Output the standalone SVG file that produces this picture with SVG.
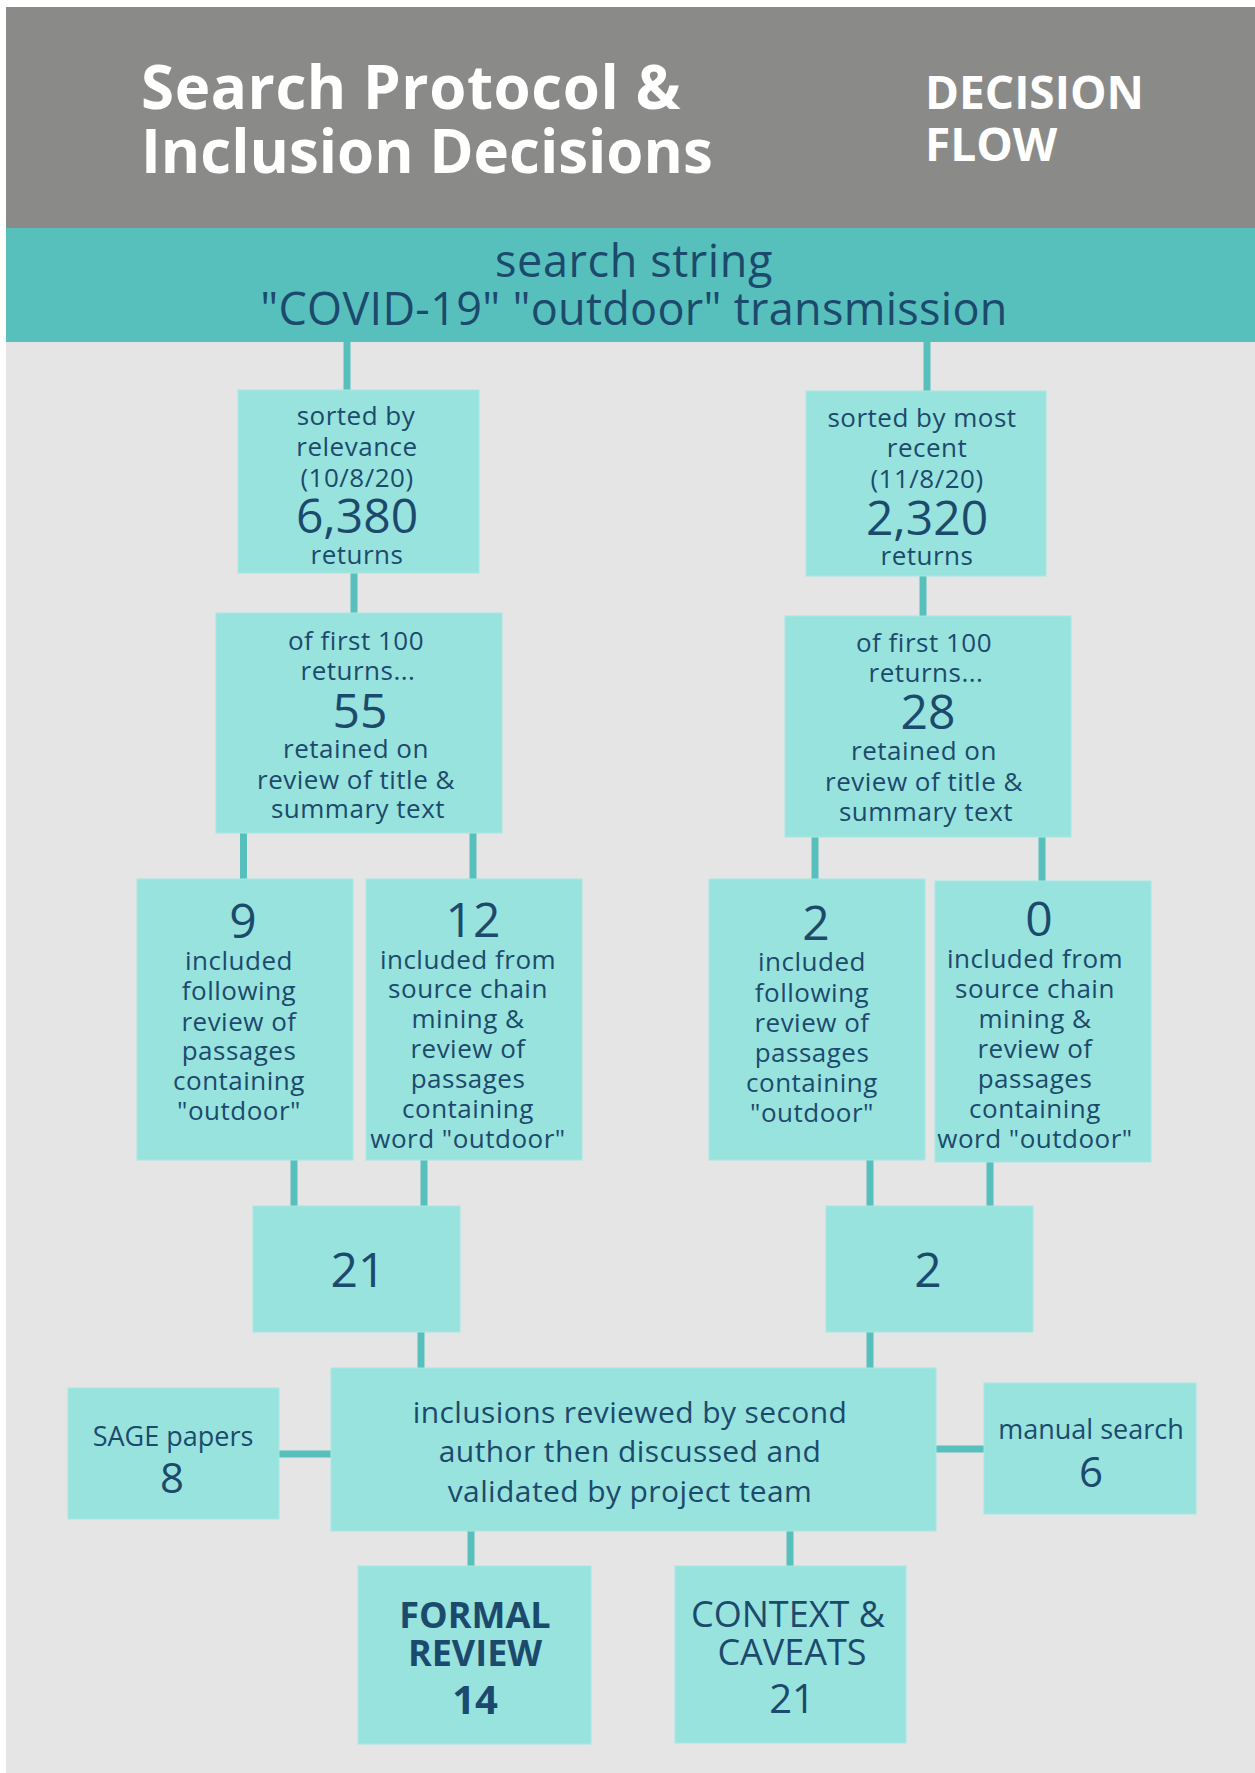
<svg xmlns="http://www.w3.org/2000/svg" width="1255" height="1773" viewBox="0 0 1255 1773">
<style>
.node{fill:#98e3dd;stroke:#a6e8e3;stroke-width:1}
.t{font-family:"Open Sans","Liberation Sans",sans-serif;fill:#1c4a6c;text-anchor:middle}
.s{font-size:26px;letter-spacing:0.5px}
.n{font-size:48px}
.h{font-family:"Open Sans","Liberation Sans",sans-serif;fill:#ffffff;font-weight:bold}
#connectors line{stroke:#58c0bc;stroke-width:7}
</style>
<rect x="0" y="0" width="1255" height="1773" fill="#ffffff"/>
<rect x="6" y="7" width="1249" height="221" fill="#8a8b88"/>
<rect x="6" y="228" width="1249" height="114" fill="#57c0bc"/>
<rect x="6" y="342" width="1249" height="1431" fill="#e5e5e5"/>
<g id="header">
<text class="h" x="141" y="109" font-size="60" letter-spacing="0.6">Search Protocol &amp;</text>
<text class="h" x="141" y="173" font-size="60">Inclusion Decisions</text>
<text class="h" x="925" y="109" font-size="46">DECISION</text>
<text class="h" x="925" y="161" font-size="46">FLOW</text>
</g>
<g id="search-string">
<text class="t" x="634" y="277" font-size="45" letter-spacing="0.6">search string</text>
<text class="t" x="634" y="325" font-size="45" letter-spacing="0.3">"COVID-19" "outdoor" transmission</text>
</g>
<g id="connectors">
<line x1="347" y1="342" x2="347" y2="390"/>
<line x1="354" y1="573" x2="354" y2="613"/>
<line x1="243.5" y1="833" x2="243.5" y2="879"/>
<line x1="473" y1="833" x2="473" y2="879"/>
<line x1="294" y1="1160" x2="294" y2="1206"/>
<line x1="424" y1="1160" x2="424" y2="1206"/>
<line x1="421" y1="1332" x2="421" y2="1368"/>
<line x1="927" y1="342" x2="927" y2="391"/>
<line x1="923" y1="576" x2="923" y2="616"/>
<line x1="815" y1="837" x2="815" y2="879"/>
<line x1="1042" y1="837" x2="1042" y2="881"/>
<line x1="870" y1="1160" x2="870" y2="1206"/>
<line x1="990" y1="1162" x2="990" y2="1206"/>
<line x1="870" y1="1332" x2="870" y2="1368"/>
<line x1="279" y1="1454" x2="331" y2="1454"/>
<line x1="936" y1="1449" x2="984" y2="1449"/>
<line x1="471" y1="1531" x2="471" y2="1566"/>
<line x1="790" y1="1531" x2="790" y2="1566"/>
</g>
<g id="node-relevance">
<rect class="node" x="238" y="390" width="241" height="183"/>
<text class="t s" x="356" y="425">sorted by</text>
<text class="t s" x="357" y="456">relevance</text>
<text class="t s" x="357" y="487">(10/8/20)</text>
<text class="t n" x="357" y="533">6,380</text>
<text class="t s" x="357" y="564">returns</text>
</g>
<g id="node-recent">
<rect class="node" x="806" y="391" width="240" height="185"/>
<text class="t s" x="922" y="427">sorted by most</text>
<text class="t s" x="927" y="457">recent</text>
<text class="t s" x="927" y="488">(11/8/20)</text>
<text class="t n" x="927" y="535">2,320</text>
<text class="t s" x="927" y="565">returns</text>
</g>
<g id="node-first100-left">
<rect class="node" x="216" y="613" width="286" height="220"/>
<text class="t s" x="356" y="650">of first 100</text>
<text class="t s" x="358" y="680">returns...</text>
<text class="t n" x="360" y="728">55</text>
<text class="t s" x="356" y="758">retained on</text>
<text class="t s" x="356" y="789">review of title &amp;</text>
<text class="t s" x="358" y="818">summary text</text>
</g>
<g id="node-first100-right">
<rect class="node" x="785" y="616" width="286" height="221"/>
<text class="t s" x="924" y="652">of first 100</text>
<text class="t s" x="926" y="682">returns...</text>
<text class="t n" x="928" y="729">28</text>
<text class="t s" x="924" y="760">retained on</text>
<text class="t s" x="924" y="791">review of title &amp;</text>
<text class="t s" x="926" y="821">summary text</text>
</g>
<g id="node-9">
<rect class="node" x="137" y="879" width="216" height="281"/>
<text class="t n" x="243" y="938">9</text>
<text class="t s" x="239" y="970">included</text>
<text class="t s" x="239" y="1000">following</text>
<text class="t s" x="239" y="1031">review of</text>
<text class="t s" x="239" y="1060">passages</text>
<text class="t s" x="239" y="1090">containing</text>
<text class="t s" x="239" y="1120">"outdoor"</text>
</g>
<g id="node-12">
<rect class="node" x="366" y="879" width="216" height="281"/>
<text class="t n" x="473" y="937">12</text>
<text class="t s" x="468" y="969">included from</text>
<text class="t s" x="468" y="998">source chain</text>
<text class="t s" x="468" y="1028">mining &amp;</text>
<text class="t s" x="468" y="1058">review of</text>
<text class="t s" x="468" y="1088">passages</text>
<text class="t s" x="468" y="1118">containing</text>
<text class="t s" x="468" y="1148">word "outdoor"</text>
</g>
<g id="node-2a">
<rect class="node" x="709" y="879" width="216" height="281"/>
<text class="t n" x="816" y="940">2</text>
<text class="t s" x="812" y="971">included</text>
<text class="t s" x="812" y="1002">following</text>
<text class="t s" x="812" y="1032">review of</text>
<text class="t s" x="812" y="1062">passages</text>
<text class="t s" x="812" y="1092">containing</text>
<text class="t s" x="812" y="1122">"outdoor"</text>
</g>
<g id="node-0">
<rect class="node" x="935" y="881" width="216" height="281"/>
<text class="t n" x="1039" y="936">0</text>
<text class="t s" x="1035" y="968">included from</text>
<text class="t s" x="1035" y="998">source chain</text>
<text class="t s" x="1035" y="1028">mining &amp;</text>
<text class="t s" x="1035" y="1058">review of</text>
<text class="t s" x="1035" y="1088">passages</text>
<text class="t s" x="1035" y="1118">containing</text>
<text class="t s" x="1035" y="1148">word "outdoor"</text>
</g>
<g id="node-21">
<rect class="node" x="253" y="1206" width="207" height="126"/>
<text class="t n" x="358" y="1287">21</text>
</g>
<g id="node-2b">
<rect class="node" x="826" y="1206" width="207" height="126"/>
<text class="t n" x="928" y="1287">2</text>
</g>
<g id="node-review">
<rect class="node" x="331" y="1368" width="605" height="163"/>
<text class="t" x="630" y="1423" font-size="30" letter-spacing="0.4">inclusions reviewed by second</text>
<text class="t" x="630" y="1462" font-size="30" letter-spacing="0.4">author then discussed and</text>
<text class="t" x="630" y="1502" font-size="30" letter-spacing="0.4">validated by project team</text>
</g>
<g id="node-sage">
<rect class="node" x="68" y="1388" width="211" height="131"/>
<text class="t" x="173" y="1446" font-size="27">SAGE papers</text>
<text class="t" x="172" y="1493" font-size="42">8</text>
</g>
<g id="node-manual">
<rect class="node" x="984" y="1383" width="212" height="131"/>
<text class="t" x="1091" y="1439" font-size="27">manual search</text>
<text class="t" x="1091" y="1487" font-size="42">6</text>
</g>
<g id="node-formal">
<rect class="node" x="358" y="1566" width="233" height="178"/>
<text class="t" x="475" y="1628" font-size="36" font-weight="bold">FORMAL</text>
<text class="t" x="475" y="1666" font-size="36" font-weight="bold">REVIEW</text>
<text class="t" x="475" y="1714" font-size="40" font-weight="bold">14</text>
</g>
<g id="node-context">
<rect class="node" x="675" y="1566" width="231" height="177"/>
<text class="t" x="788" y="1627" font-size="36">CONTEXT &amp;</text>
<text class="t" x="792" y="1665" font-size="36">CAVEATS</text>
<text class="t" x="792" y="1713" font-size="40">21</text>
</g>
</svg>
